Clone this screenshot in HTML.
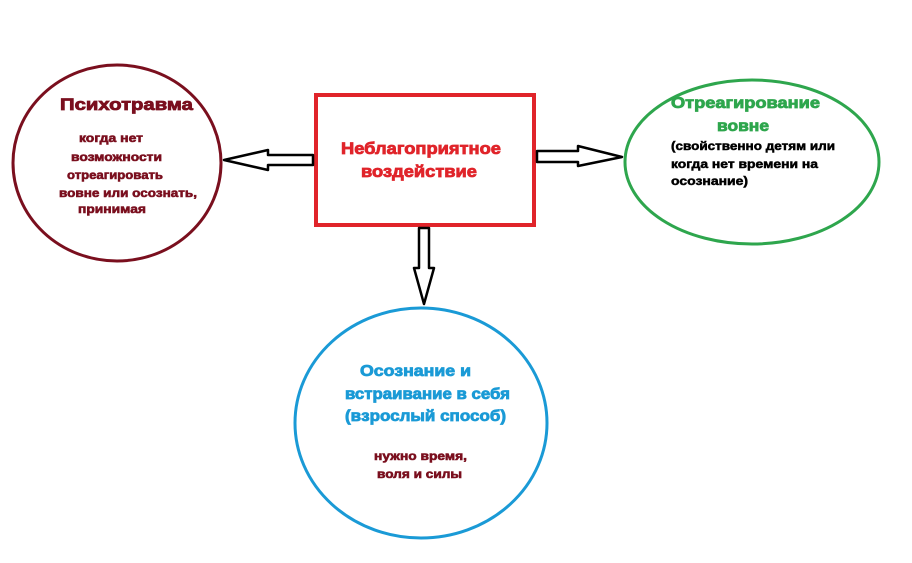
<!DOCTYPE html>
<html><head><meta charset="utf-8"><style>
body{margin:0;background:#fff;width:912px;height:558px;overflow:hidden}
text{font-family:"Liberation Sans","DejaVu Sans",sans-serif;font-weight:700}
</style></head><body>
<svg width="912" height="558" viewBox="0 0 912 558" xmlns="http://www.w3.org/2000/svg">
<rect width="912" height="558" fill="#fff"/>
<ellipse cx="117" cy="163" rx="104" ry="98" fill="none" stroke="#7a0f1e" stroke-width="3"/>
<ellipse cx="752" cy="162" rx="127" ry="82" fill="none" stroke="#2ea64d" stroke-width="3"/>
<ellipse cx="421" cy="423" rx="126" ry="115" fill="none" stroke="#1a9ad6" stroke-width="3"/>
<rect x="316" y="95" width="218" height="130" fill="none" stroke="#e0242a" stroke-width="4"/>
<polygon points="313,155 268,155 268,150 224,160 268,170 268,165 313,165" fill="#fff" stroke="#000" stroke-width="2.5" stroke-linejoin="round"/>
<polygon points="537,151 578,151 578,146 622,157 578,166 578,162 537,162" fill="#fff" stroke="#000" stroke-width="2.5" stroke-linejoin="round"/>
<polygon points="419,228 429,228 429,268 434,268 424,304 414,268 419,268" fill="#fff" stroke="#000" stroke-width="2.5" stroke-linejoin="round"/>
<g fill="#7a0f1e" stroke="#7a0f1e" stroke-width="0.6" font-weight="bold">
<text x="60" y="110" font-size="17" stroke-width="0.8" textLength="133" lengthAdjust="spacingAndGlyphs">Психотравма</text>
<text x="79" y="142" font-size="12" textLength="64" lengthAdjust="spacingAndGlyphs">когда нет</text>
<text x="71" y="161" font-size="12" textLength="91" lengthAdjust="spacingAndGlyphs">возможности</text>
<text x="67" y="179" font-size="12" textLength="96" lengthAdjust="spacingAndGlyphs">отреагировать</text>
<text x="59" y="197" font-size="12" textLength="138" lengthAdjust="spacingAndGlyphs">вовне или осознать,</text>
<text x="78" y="213" font-size="12" textLength="68" lengthAdjust="spacingAndGlyphs">принимая</text>
</g>
<g fill="#e0242a" stroke="#e0242a" stroke-width="0.8" font-size="17" font-weight="bold">
<text x="341" y="154" textLength="160" lengthAdjust="spacingAndGlyphs">Неблагоприятное</text>
<text x="361" y="177" textLength="116" lengthAdjust="spacingAndGlyphs">воздействие</text>
</g>
<g fill="#2ea64d" stroke="#2ea64d" stroke-width="0.8" font-size="16" font-weight="bold">
<text x="671" y="108" textLength="149" lengthAdjust="spacingAndGlyphs">Отреагирование</text>
<text x="717" y="131" textLength="52" lengthAdjust="spacingAndGlyphs">вовне</text>
</g>
<g fill="#000" stroke="#000" stroke-width="0.5" font-size="12" font-weight="bold">
<text x="671" y="150" textLength="164" lengthAdjust="spacingAndGlyphs">(свойственно детям или</text>
<text x="671" y="168" textLength="147" lengthAdjust="spacingAndGlyphs">когда нет времени на</text>
<text x="671" y="185" textLength="77" lengthAdjust="spacingAndGlyphs">осознание)</text>
</g>
<g fill="#1a9ad6" stroke="#1a9ad6" stroke-width="0.8" font-size="16" font-weight="bold">
<text x="360" y="376" textLength="111" lengthAdjust="spacingAndGlyphs">Осознание и</text>
<text x="345" y="399" textLength="165" lengthAdjust="spacingAndGlyphs">встраивание в себя</text>
<text x="345" y="421" textLength="161" lengthAdjust="spacingAndGlyphs">(взрослый способ)</text>
</g>
<g fill="#7a0f1e" stroke="#7a0f1e" stroke-width="0.6" font-size="12" font-weight="bold">
<text x="374" y="460" textLength="93" lengthAdjust="spacingAndGlyphs">нужно время,</text>
<text x="377" y="478" textLength="85" lengthAdjust="spacingAndGlyphs">воля и силы</text>
</g>
</svg>
</body></html>
